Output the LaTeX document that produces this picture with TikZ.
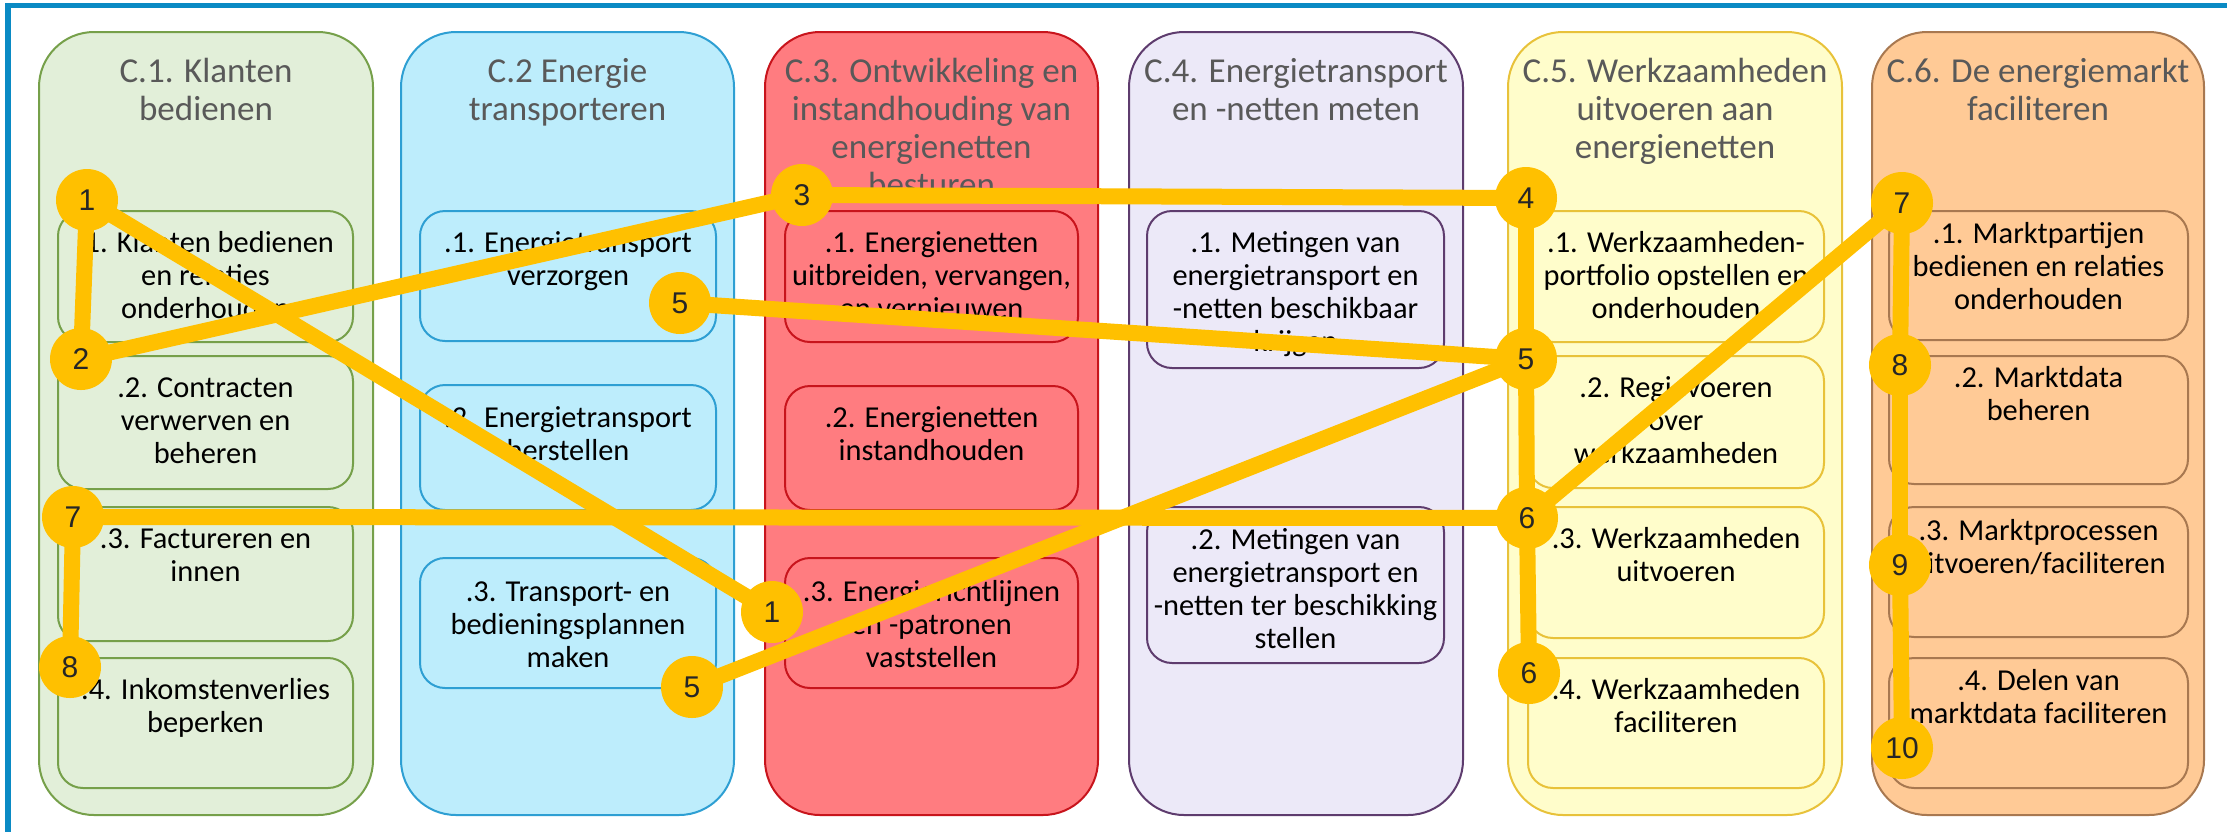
\documentclass[tikz,border=0pt]{standalone}
\usepackage{fontspec}
\setmainfont{Carlito}
\newfontfamily\numfont{Liberation Sans}
\definecolor{gold}{HTML}{FFC000}
\definecolor{ttlgrey}{HTML}{595959}
\definecolor{numgrey}{HTML}{262626}
\definecolor{frameblue}{HTML}{0A8AC4}
\definecolor{gfill}{HTML}{E2EFD9}\definecolor{gdraw}{HTML}{76A04A}
\definecolor{bfill}{HTML}{BDEDFC}\definecolor{bdraw}{HTML}{2E9FD3}
\definecolor{rfill}{HTML}{FF7C80}\definecolor{rdraw}{HTML}{C8141C}
\definecolor{pfill}{HTML}{ECE9F8}\definecolor{pdraw}{HTML}{5E3C6E}
\definecolor{yfill}{HTML}{FFFDCB}\definecolor{ydraw}{HTML}{E8C23A}
\definecolor{ofill}{HTML}{FFCA96}\definecolor{odraw}{HTML}{A87850}
\pgfdeclarelayer{bg}\pgfdeclarelayer{mid}
\pgfsetlayers{bg,mid,main}
\tikzset{
  col/.style={line width=1pt, rounded corners=27.5pt},
  sub/.style={line width=1pt, rounded corners=12.5pt},
  ttl/.style={anchor=base, align=center, inner sep=0pt, text=ttlgrey,
    font=\fontsize{17.5}{19}\selectfont},
  txt/.style={anchor=base, align=center, inner sep=0pt, text=black,
    font=\fontsize{15.2}{16.5}\selectfont},
  num/.style={circle, fill=gold, minimum size=31pt, inner sep=0pt, text=numgrey,
    font=\numfont\fontsize{15}{15}\selectfont},
  link/.style={draw=gold, line width=8pt},
}
\begin{document}
\begin{tikzpicture}[x=0.5pt,y=-0.5pt]
\useasboundingbox (0,0) rectangle (2227,832);
\begin{pgfonlayer}{bg}
\fill[white] (0,0) rectangle (2227,832);
\draw[frameblue, line width=2.5pt] (5,5.5) -- (2227,5.5);
\draw[frameblue, line width=3pt] (8,3) -- (8,832);
% columns
\draw[col, fill=gfill, draw=gdraw] (39,32) rectangle (373,815);
\draw[col, fill=bfill, draw=bdraw] (401,32) rectangle (734,815);
\draw[col, fill=rfill, draw=rdraw] (765,32) rectangle (1098,815);
\draw[col, fill=pfill, draw=pdraw] (1129,32) rectangle (1463,815);
\draw[col, fill=yfill, draw=ydraw] (1508,32) rectangle (1842,815);
\draw[col, fill=ofill, draw=odraw] (1872,32) rectangle (2204,815);
% titles (anchor = baseline of last line)
\node[ttl] (h1) at (206,120) {C.1. Klanten\\bedienen};
\node[ttl] (h2) at (567.5,120) {C.2 Energie\\transporteren};
\node[ttl] (h3) at (931.5,196) {C.3. Ontwikkeling en\\instandhouding van\\energienetten\\besturen};
\node[ttl] (h4) at (1296,120) {C.4. Energietransport\\en -netten meten};
\node[ttl] (h5) at (1675,158) {C.5. Werkzaamheden\\uitvoeren aan\\energienetten};
\node[ttl] (h6) at (2038,120) {C.6. De energiemarkt\\faciliteren};
% C1 boxes
\draw[sub, fill=gfill, draw=gdraw] (58,211) rectangle (353,342);
\draw[sub, fill=gfill, draw=gdraw] (58,356) rectangle (353,489);
\draw[sub, fill=gfill, draw=gdraw] (58,507) rectangle (353,641);
\draw[sub, fill=gfill, draw=gdraw] (58,658) rectangle (353,788);
\node[txt] (t11) at (205.5,318) {.1. Klanten bedienen\\en relaties\\onderhouden};
\node[txt] (t12) at (205.5,463) {.2. Contracten\\verwerven en\\beheren};
\node[txt] (t13) at (205.5,581) {.3. Factureren en\\innen};
\node[txt] (t14) at (205.5,732) {.4. Inkomstenverlies\\beperken};
% C2 boxes
\draw[sub, fill=bfill, draw=bdraw] (420,211) rectangle (716,341);
\draw[sub, fill=bfill, draw=bdraw] (420,385) rectangle (716,510);
\draw[sub, fill=bfill, draw=bdraw] (420,558) rectangle (716,688);
\node[txt] (t21) at (568,285) {.1. Energietransport\\verzorgen};
\node[txt] (t22) at (568,460) {.2. Energietransport\\herstellen};
\node[txt] (t23) at (568,667) {.3. Transport- en\\bedieningsplannen\\maken};
% C3 boxes
\draw[sub, fill=rfill, draw=rdraw] (785,211) rectangle (1078,342);
\draw[sub, fill=rfill, draw=rdraw] (785,386) rectangle (1078,510);
\draw[sub, fill=rfill, draw=rdraw] (785,558) rectangle (1078,688);
\node[txt] (t31) at (931.5,318) {.1. Energienetten\\uitbreiden, vervangen,\\en vernieuwen};
\node[txt] (t32) at (931.5,460) {.2. Energienetten\\instandhouden};
\node[txt] (t33) at (931.5,667) {.3. Energierichtlijnen\\en -patronen\\vaststellen};
% C4 boxes
\draw[sub, fill=pfill, draw=pdraw] (1147,211) rectangle (1444,368);
\draw[sub, fill=pfill, draw=pdraw] (1147,507) rectangle (1444,663);
\node[txt] (t41) at (1295.5,351) {.1. Metingen van\\energietransport en\\-netten beschikbaar\\krijgen};
\node[txt] (t42) at (1295.5,648) {.2. Metingen van\\energietransport en\\-netten ter beschikking\\stellen};
% C5 boxes
\draw[sub, fill=yfill, draw=ydraw] (1528,211) rectangle (1824,342);
\draw[sub, fill=yfill, draw=ydraw] (1528,356) rectangle (1824,488);
\draw[sub, fill=yfill, draw=ydraw] (1528,507) rectangle (1824,638);
\draw[sub, fill=yfill, draw=ydraw] (1528,658) rectangle (1824,788);
\node[txt] (t51) at (1676,318) {.1. Werkzaamheden-\\portfolio opstellen en\\onderhouden};
\node[txt] (t52) at (1676,463) {.2. Regievoeren\\over\\werkzaamheden};
\node[txt] (t53) at (1676,581) {.3. Werkzaamheden\\uitvoeren};
\node[txt] (t54) at (1676,732) {.4. Werkzaamheden\\faciliteren};
% C6 boxes
\draw[sub, fill=ofill, draw=odraw] (1889,211) rectangle (2188,340);
\draw[sub, fill=ofill, draw=odraw] (1889,356) rectangle (2188,484);
\draw[sub, fill=ofill, draw=odraw] (1889,507) rectangle (2188,637);
\draw[sub, fill=ofill, draw=odraw] (1889,658) rectangle (2188,788);
\node[txt] (t61) at (2038.5,309) {.1. Marktpartijen\\bedienen en relaties\\onderhouden};
\node[txt] (t62) at (2038.5,420) {.2. Marktdata\\beheren};
\node[txt] (t63) at (2038.5,573) {.3. Marktprocessen\\uitvoeren/faciliteren};
\node[txt] (t64) at (2038.5,723) {.4. Delen van\\marktdata faciliteren};
\end{pgfonlayer}
% numbered markers
\node[num] (n1a) at (87,200) {1};
\node[num] (n2) at (81,359) {2};
\node[num] (n3) at (802,195) {3};
\node[num] (n4) at (1526,198) {4};
\node[num] (n5a) at (680,303) {5};
\node[num] (n5b) at (1526,359) {5};
\node[num] (n5c) at (692,687) {5};
\node[num] (n1b) at (772,612) {1};
\node[num] (n6a) at (1527,518) {6};
\node[num] (n6b) at (1529,673) {6};
\node[num] (n7a) at (73,517) {7};
\node[num] (n8a) at (70,667) {8};
\node[num] (n7b) at (1902,203) {7};
\node[num] (n8b) at (1900,365) {8};
\node[num] (n9) at (1900,565) {9};
\node[num] (n10) at (1902,748) {10};
\begin{pgfonlayer}{mid}
\draw[link] (n1a.center) -- (n2.center);
\draw[link] (n1a.center) -- (n1b.center);
\draw[link] (n2.center) -- (n3.center);
\draw[link] (n3.center) -- (n4.center);
\draw[link] (n4.center) -- (n5b.center);
\draw[link] (n5a.center) -- (n5b.center);
\draw[link] (n5b.center) -- (n5c.center);
\draw[link] (n5b.center) -- (n6a.center);
\draw[link] (n7a.center) -- (n6a.center);
\draw[link] (n6a.center) -- (n7b.center);
\draw[link] (n6a.center) -- (n6b.center);
\draw[link] (n7a.center) -- (n8a.center);
\draw[link] (n7b.center) -- (n8b.center);
\draw[link] (n8b.center) -- (n9.center);
\draw[link] (n9.center) -- (n10.center);
\end{pgfonlayer}
\end{tikzpicture}
\end{document}
